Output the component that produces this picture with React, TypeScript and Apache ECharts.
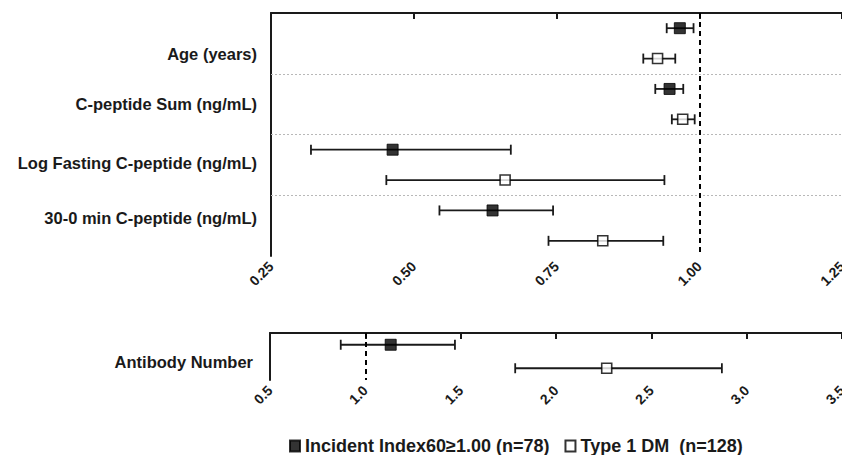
import React, { useEffect, useRef } from "react";
import * as echarts from "echarts";

const categories = [
  "Age (years)",
  "C-peptide Sum (ng/mL)",
  "Log Fasting C-peptide (ng/mL)",
  "30-0 min C-peptide (ng/mL)",
];
const incidentMean = [0.966, 0.948, 0.463, 0.638];
const incidentLow = [0.943, 0.923, 0.32, 0.545];
const incidentHigh = [0.99, 0.972, 0.67, 0.744];
const t1dMean = [0.927, 0.971, 0.66, 0.831];
const t1dLow = [0.902, 0.952, 0.452, 0.736];
const t1dHigh = [0.958, 0.992, 0.939, 0.937];

const antibodyCategory = ["Antibody Number"];
const antibodyIncident = [1.133, 0.871, 1.47]; // mean, low, high
const antibodyT1d = [2.266, 1.786, 2.87];

const topTicks = { min: 0.25, max: 1.25, interval: 0.25 };
const bottomTicks = { min: 0.5, max: 3.5, interval: 0.5 };

const incidentName = "Incident Index60\u22651.00 (n=78)";
const t1dName = "Type 1 DM  (n=128)";

const FONT = "'Liberation Sans', Arial, sans-serif";
const INK = "#1a1a1a";

function errorBarRender(params: any, api: any) {
  const y = api.value(0);
  const lo = api.value(1);
  const hi = api.value(2);
  const p1 = api.coord([lo, y]);
  const p2 = api.coord([hi, y]);
  const h = 5;
  const style = { stroke: INK, lineWidth: 1.8 };
  return {
    type: "group",
    children: [
      { type: "line", shape: { x1: p1[0], y1: p1[1], x2: p2[0], y2: p2[1] }, style },
      { type: "line", shape: { x1: p1[0], y1: p1[1] - h, x2: p1[0], y2: p1[1] + h }, style },
      { type: "line", shape: { x1: p2[0], y1: p2[1] - h, x2: p2[0], y2: p2[1] + h }, style },
    ],
  };
}

export default function App() {
  const ref = useRef<HTMLDivElement>(null);
  useEffect(() => {
    if (!ref.current) return;
    const chart = echarts.init(ref.current, null, { renderer: "svg" });

    const topOffsets = [21, 0, -4, -16];
    const rich: any = {};
    topOffsets.forEach((o, i) => {
      rich["r" + i] = {
        fontFamily: FONT,
        fontWeight: "bold",
        fontSize: 16.5,
        color: INK,
        padding: o >= 0 ? [o, 0, 0, 0] : [0, 0, -o, 0],
      };
    });
    rich["ab"] = {
      fontFamily: FONT,
      fontWeight: "bold",
      fontSize: 16.5,
      color: INK,
      padding: [11, 0, 0, 0],
    };

    const xLabel = (digits: number) => ({
      rotate: 45,
      fontFamily: FONT,
      fontWeight: "bold",
      fontSize: 14,
      color: INK,
      margin: 8,
      formatter: (v: number) => v.toFixed(digits),
    });
    const axisLine = { show: true, lineStyle: { color: INK, width: 2 } };
    const axisTick = { show: true, length: 6, lineStyle: { color: INK, width: 2 } };

    const incidentTopPts = incidentMean.map((m, i) => [m, i * 2 + 0.5]);
    const t1dTopPts = t1dMean.map((m, i) => [m, i * 2 + 1.5]);
    const incidentTopBars = incidentMean.map((_, i) => [i * 2 + 0.5, incidentLow[i], incidentHigh[i]]);
    const t1dTopBars = t1dMean.map((_, i) => [i * 2 + 1.5, t1dLow[i], t1dHigh[i]]);

    const filledStyle = { color: "#000", borderColor: "#000", borderWidth: 1 };
    const openStyle = { color: "#fff", borderColor: "#000", borderWidth: 1.6 };

    chart.setOption({
      animation: false,
      backgroundColor: "#fff",
      grid: [
        { left: 271, top: 13, right: 0, height: 243, outerBoundsMode: "none", containLabel: false },
        { left: 270, top: 333, right: 0, height: 47, outerBoundsMode: "none", containLabel: false },
      ],
      xAxis: [
        {
          gridIndex: 0,
          type: "value",
          ...topTicks,
          axisLine,
          axisTick,
          splitLine: { show: false },
          axisLabel: xLabel(2),
        },
        {
          gridIndex: 1,
          type: "value",
          ...bottomTicks,
          axisLine,
          axisTick,
          splitLine: { show: false },
          axisLabel: xLabel(1),
        },
      ],
      yAxis: [
        {
          gridIndex: 0,
          type: "category",
          data: categories,
          inverse: true,
          axisLine,
          axisTick: { show: false },
          axisLabel: {
            margin: 14,
            formatter: (v: string) => `{r${categories.indexOf(v)}|${v}}`,
            rich,
          },
        },
        { gridIndex: 0, type: "value", min: 0, max: 8, inverse: true, show: false },
        {
          gridIndex: 1,
          type: "category",
          data: antibodyCategory,
          inverse: true,
          axisLine,
          axisTick: { show: false },
          axisLabel: {
            margin: 17,
            formatter: (v: string) => `{ab|${v}}`,
            rich,
          },
        },
        { gridIndex: 1, type: "value", min: 0, max: 2, inverse: true, show: false },
      ],
      legend: {
        left: 284,
        top: 432,
        itemWidth: 10,
        itemHeight: 11,
        itemGap: 15,
        icon: "rect",
        data: [incidentName, t1dName],
        textStyle: { fontFamily: FONT, fontWeight: "bold", fontSize: 18, color: INK },
      },
      series: [
        {
          type: "custom",
          xAxisIndex: 0,
          yAxisIndex: 1,
          renderItem: errorBarRender,
          data: [...incidentTopBars, ...t1dTopBars],
          encode: { x: [1, 2], y: 0 },
          z: 2,
          silent: true,
          markLine: {
            silent: true,
            symbol: "none",
            label: { show: false },
            data: [
              { yAxis: 2, lineStyle: { color: "#b8b8b8", width: 1, type: [2, 2] } },
              { yAxis: 4, lineStyle: { color: "#b8b8b8", width: 1, type: [2, 2] } },
              { yAxis: 6, lineStyle: { color: "#b8b8b8", width: 1, type: [2, 2] } },
              { xAxis: 1, lineStyle: { color: "#000", width: 2, type: [5, 4] } },
            ],
          },
        },
        {
          name: incidentName,
          type: "scatter",
          xAxisIndex: 0,
          yAxisIndex: 1,
          symbol: "rect",
          symbolSize: 11,
          itemStyle: filledStyle,
          data: incidentTopPts,
          z: 3,
        },
        {
          name: t1dName,
          type: "scatter",
          xAxisIndex: 0,
          yAxisIndex: 1,
          symbol: "rect",
          symbolSize: 10,
          itemStyle: openStyle,
          data: t1dTopPts,
          z: 3,
        },
        {
          type: "custom",
          xAxisIndex: 1,
          yAxisIndex: 3,
          renderItem: errorBarRender,
          data: [
            [0.5, antibodyIncident[1], antibodyIncident[2]],
            [1.5, antibodyT1d[1], antibodyT1d[2]],
          ],
          encode: { x: [1, 2], y: 0 },
          z: 2,
          silent: true,
          markLine: {
            silent: true,
            symbol: "none",
            label: { show: false },
            data: [{ xAxis: 1, lineStyle: { color: "#000", width: 2, type: [5, 4] } }],
          },
        },
        {
          name: incidentName,
          type: "scatter",
          xAxisIndex: 1,
          yAxisIndex: 3,
          symbol: "rect",
          symbolSize: 11,
          itemStyle: filledStyle,
          data: [[antibodyIncident[0], 0.5]],
          z: 3,
        },
        {
          name: t1dName,
          type: "scatter",
          xAxisIndex: 1,
          yAxisIndex: 3,
          symbol: "rect",
          symbolSize: 10,
          itemStyle: openStyle,
          data: [[antibodyT1d[0], 1.5]],
          z: 3,
        },
      ],
    });
    return () => chart.dispose();
  }, []);

  return (
    <div
      ref={ref}
      style={{ position: "fixed", left: 0, top: 0, width: 842, height: 455 }}
    />
  );
}
